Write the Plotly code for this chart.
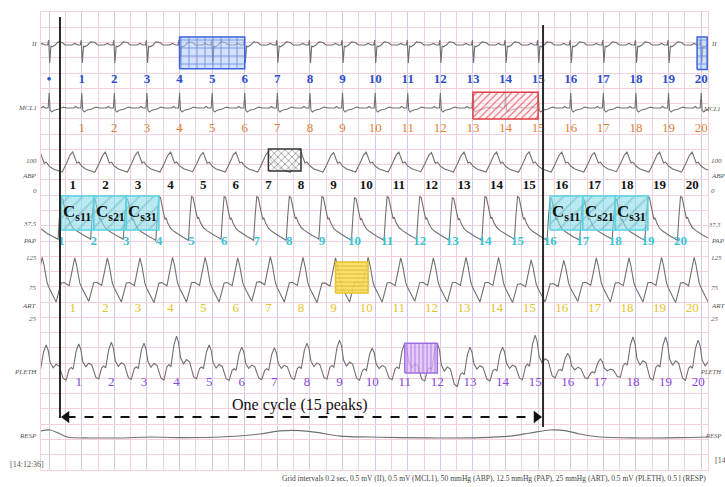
import plotly.graph_objects as go

# ---------------------------------------------------------------- time base
# QRS times (s) for beats -1 .. 20 (beat -1 sits just left of the strip)
beat_times = [-0.30, 0.10, 0.50, 0.90, 1.30, 1.70, 2.10, 2.50, 2.90, 3.30, 3.70,
              4.10, 4.50, 4.90, 5.30, 5.70, 6.10, 6.50, 6.90, 7.30, 7.70, 8.10]
peak_numbers = ["", "•", "1", "2", "3", "4", "5", "6", "7", "8", "9", "10",
                "11", "12", "13", "14", "15", "16", "17", "18", "19", "20"]

# ---------------------------------------------------------------- beat templates
# ECG complexes: (seconds from QRS, mV)
ii_complex = [(-0.123, 0.0), (-0.086, 0.05), (-0.049, 0.0), (-0.018, 0.0),
              (-0.006, 0.16), (0.007, -0.59), (0.022, -0.03), (0.037, -0.06),
              (0.074, 0.0), (0.110, 0.10), (0.160, 0.08), (0.196, 0.0)]
mcl1_complex = [(-0.098, 0.0), (-0.074, 0.05), (-0.049, 0.0), (-0.012, 0.0),
                (0.000, 0.49), (0.012, -0.07), (0.031, -0.13), (0.061, -0.07),
                (0.123, -0.03), (0.172, 0.03), (0.221, 0.0)]

# Pulsatile waves: (seconds from systolic peak, fraction of pulse height)
abp_fall = [(0.000, 1.00), (0.025, 0.75), (0.049, 0.45), (0.074, 0.50),
            (0.110, 0.30), (0.160, 0.15), (0.221, 0.05), (0.270, 0.00)]
abp_rise = [(0.319, 0.40), (0.368, 0.85)]
pap_fall = [(0.000, 1.00), (0.018, 0.98), (0.037, 0.84), (0.055, 0.64),
            (0.074, 0.48), (0.086, 0.52), (0.110, 0.39), (0.147, 0.27),
            (0.184, 0.21), (0.233, 0.14), (0.282, 0.09), (0.331, 0.04),
            (0.362, 0.00)]
pap_rise = [(0.380, 0.55), (0.393, 0.90)]
art_fall = [(0.000, 1.00), (0.025, 0.81), (0.061, 0.43), (0.086, 0.31),
            (0.123, 0.18), (0.172, 0.00)]
art_rise = [(0.233, 0.43), (0.270, 0.44), (0.331, 0.37), (0.356, 0.60),
            (0.380, 0.78)]
pleth_fall = [(0.000, 1.00), (0.025, 0.85), (0.049, 0.50), (0.086, 0.35),
              (0.123, 0.45), (0.160, 0.40), (0.209, 0.05), (0.245, 0.00)]
pleth_rise = [(0.282, 0.30), (0.307, 0.35), (0.331, 0.30), (0.368, 0.80)]

# ---------------------------------------------------------------- per-beat values
abp_sys = [128, 127, 129, 128, 129, 128, 127, 128, 129, 128, 127,
           128, 128, 127, 128, 128, 129, 128, 127, 128, 128, 128]
abp_dia = [63, 63, 62, 63, 63, 64, 63, 63, 62, 63, 63,
           63, 64, 63, 63, 62, 63, 63, 64, 63, 63, 63]
pap_sys = [58, 59, 58, 58, 60, 60, 60, 60, 60, 60, 59,
           60, 60, 59, 60, 60, 59, 58, 58, 60, 60, 60]
pap_dia = [25, 25, 25, 24, 24, 25, 24, 24, 25, 24, 24,
           25, 24, 24, 25, 24, 24, 25, 24, 24, 25, 24]
art_sys = [126, 126, 125, 125, 125, 126, 126, 125, 127, 126, 125,
           126, 125, 125, 126, 126, 122, 121, 125, 125, 126, 126]
art_dia = [53, 53, 54, 53, 52, 53, 53, 54, 53, 52, 53,
           53, 54, 53, 53, 52, 53, 54, 53, 53, 52, 53]
pleth_peak = [0.56, 0.56, 0.59, 0.65, 0.62, 0.85, 0.56, 0.49, 0.46, 0.62, 0.72,
              0.46, 0.62, 0.62, 0.49, 0.49, 0.88, 0.29, 0.10, 0.82, 0.82, 0.72]
pleth_trough = [-0.59, -0.59, -0.55, -0.57, -0.59, -0.55, -0.60, -0.58, -0.57, -0.56, -0.59,
                -0.58, -0.62, -0.80, -0.62, -0.58, -0.52, -0.55, -0.50, -0.59, -0.60, -0.58]

# respiration: (s, litres)
resp_t = [0.00, 0.11, 0.21, 0.32, 0.60, 0.97, 1.34, 1.71, 2.20, 2.69, 2.93, 3.18,
          3.36, 3.67, 4.04, 4.40, 4.90, 5.39, 5.75, 6.00, 6.25, 6.43, 6.61, 6.85,
          7.35, 7.84, 8.18]
resp_v = [0.20, 0.23, 0.13, 0.00, -0.03, -0.03, 0.00, -0.02, 0.00, 0.10, 0.20, 0.21,
          0.16, 0.03, 0.00, -0.02, -0.03, -0.02, 0.03, 0.13, 0.23, 0.21, 0.10, 0.00,
          -0.03, -0.02, 0.00]

# ---------------------------------------------------------------- channel layout
# zero: grid row of the channel's 0 level, per_row: units per grid row
CH = {
    "II":    dict(zero=27.84, per_row=0.5),
    "MCL1":  dict(zero=23.71, per_row=0.5),
    "ABP":   dict(zero=18.26, per_row=50.0),
    "PAP":   dict(zero=13.11, per_row=12.5),
    "ART":   dict(zero=8.89, per_row=25.0),
    "PLETH": dict(zero=7.07, per_row=0.5),
    "RESP":  dict(zero=2.16, per_row=0.5),
}
# peak delay of each channel relative to the QRS (s)
LAG = {"II": 0.0, "MCL1": 0.0, "ABP": -0.110, "PAP": 0.147, "ART": -0.086, "PLETH": -0.037}

T_END = 8.184
WAVE = "#707070"
SERIF = "Liberation Serif"


def rows(vals, ch):
    c = CH[ch]
    return [c["zero"] + v / c["per_row"] for v in vals]


def ecg_series(complex_):
    xs, ys = [], []
    for t in beat_times:
        for dt, v in complex_:
            xs.append(t + dt)
            ys.append(v)
    return xs, ys


def pulse_series(lag, sys, dia, fall, rise):
    xs, ys = [], []
    n = len(beat_times)
    for k in range(n):
        t0 = beat_times[k] + lag
        for dt, f in fall:
            xs.append(t0 + dt)
            ys.append(dia[k] + f * (sys[k] - dia[k]))
        if k + 1 < n:
            for dt, f in rise:
                xs.append(t0 + dt)
                ys.append(dia[k] + f * (sys[k + 1] - dia[k]))
    return xs, ys


fig = go.Figure()


def add_wave(xs, ys, ch, shape="linear"):
    fig.add_trace(go.Scatter(x=xs, y=rows(ys, ch), mode="lines",
                             line=dict(color=WAVE, width=1.1, shape=shape),
                             hoverinfo="skip", showlegend=False))


x, y = ecg_series(ii_complex)
add_wave(x, y, "II")
x, y = ecg_series(mcl1_complex)
add_wave(x, y, "MCL1")
x, y = pulse_series(LAG["ABP"], abp_sys, abp_dia, abp_fall, abp_rise)
add_wave(x, y, "ABP")
x, y = pulse_series(LAG["PAP"], pap_sys, pap_dia, pap_fall, pap_rise)
add_wave(x, y, "PAP")
x, y = pulse_series(LAG["ART"], art_sys, art_dia, art_fall, art_rise)
add_wave(x, y, "ART")
x, y = pulse_series(LAG["PLETH"], pleth_peak, pleth_trough, pleth_fall, pleth_rise)
add_wave(x, y, "PLETH")
add_wave(resp_t, resp_v, "RESP", shape="spline")

# ---------------------------------------------------------------- highlighted windows
# (channel, from beat, to beat, top, bottom, line colour, fill, pattern, pattern colour, size)
windows = [
    ("II", 4, 6, 0.26, -0.78, "#3a64d8", "rgba(175,200,245,0.55)", "+", "rgba(60,100,220,0.7)", 8),
    ("MCL1", 13, 15, 0.52, -0.36, "#e0404a", "rgba(255,235,238,0.55)", "/", "rgba(225,60,70,0.85)", 5),
    ("ABP", 7, 8, 138.0, 66.0, "#333333", "rgba(255,255,255,0.75)", "x", "rgba(50,50,50,0.8)", 5),
    ("ART", 9, 10, 118.5, 67.7, "#e8c22e", "rgba(250,222,95,0.9)", "-", "rgba(215,165,20,0.85)", 4),
    ("PLETH", 11, 12, 0.62, -0.36, "#a070e0", "rgba(220,190,248,0.75)", "|", "rgba(150,80,215,0.85)", 4),
]


def peak_time(ch, beat):
    return beat_times[beat + 1] + LAG[ch]


def add_window(x0, x1, top, bot, ch, lc, fc, pat, pc, psize):
    yt, yb = rows([top, bot], ch)
    fig.add_trace(go.Scatter(
        x=[x0, x1, x1, x0, x0], y=[yb, yb, yt, yt, yb], mode="lines",
        fill="toself",
        fillpattern=dict(shape=pat, fgcolor=pc, bgcolor=fc,
                         size=psize, solidity=0.2, fillmode="replace"),
        line=dict(color=lc, width=1.5), hoverinfo="skip", showlegend=False))


for ch, b0, b1, top, bot, lc, fc, pat, pc, ps in windows:
    add_window(peak_time(ch, b0), peak_time(ch, b1), top, bot, ch, lc, fc, pat, pc, ps)
# narrow window at the right edge of lead II
add_window(peak_time("II", 20) - 0.05, T_END - 0.01, 0.26, -0.80, "II",
           "#3a64d8", "rgba(175,200,245,0.55)", "+", "rgba(60,100,220,0.7)", 8)

# compliance windows on PAP
cs_groups = [(0, ["s11", "s21", "s31"]), (15, ["s11", "s21", "s31"])]
for first, subs in cs_groups:
    for i, sub in enumerate(subs):
        b = first + i
        x0, x1 = peak_time("PAP", b), peak_time("PAP", b + 1)
        add_window(x0, x1, 60.4, 32.6, "PAP", "#55d4e2", "rgba(140,220,232,0.6)",
                   "/", "rgba(70,160,180,0.35)", 10)
        yt, yb = rows([60.4, 32.6], "PAP")
        fig.add_annotation(x=(x0 + x1) / 2, y=(yt + yb) / 2,
                           text=f"<b>C<sub>{sub}</sub></b>", showarrow=False,
                           font=dict(family=SERIF, size=17, color="#111111"))

# ---------------------------------------------------------------- peak numbering
# (channel, label row, shift from the numbered QRS in s, colour, bold)
numbering = [
    ("II", 25.55, 0.000, "#2f4fc8", True),
    ("MCL1", 22.34, 0.000, "#e5802e", False),
    ("ABP", 18.60, -0.110, "#111111", True),
    ("PAP", 14.93, 0.147 - 0.400, "#38c4d6", True),
    ("ART", 10.55, -0.110, "#e6c12c", False),
    ("PLETH", 5.70, -0.037, "#8a46d6", False),
]
for ch, row, shift, col, bold in numbering:
    xs, ys, ts = [], [], []
    for t, lab in zip(beat_times, peak_numbers):
        if lab == "" or (lab == "•" and ch != "II"):
            continue
        xs.append(t + shift)
        ys.append(row)
        ts.append(lab)
    fig.add_trace(go.Scatter(
        x=xs, y=ys, text=ts, mode="text", hoverinfo="skip", showlegend=False,
        textfont=dict(family=SERIF, size=13, color=col,
                      weight="bold" if bold else "normal")))

# ---------------------------------------------------------------- cycle markers
cycle_start, cycle_end = 0.233, 6.16
arrow_row = 3.47
fig.add_shape(type="line", x0=cycle_start, x1=cycle_start, y0=3.41, y1=29.67,
              line=dict(color="#2a2a2a", width=2))
fig.add_shape(type="line", x0=cycle_end, x1=cycle_end, y0=2.82, y1=29.15,
              line=dict(color="#2a2a2a", width=2))
fig.add_shape(type="line", x0=cycle_start + 0.08, x1=cycle_end - 0.08, y0=arrow_row, y1=arrow_row,
              line=dict(color="#111111", width=2, dash="dash"))
fig.add_trace(go.Scatter(x=[cycle_start + 0.08, cycle_end - 0.08], y=[arrow_row, arrow_row],
                         mode="markers", hoverinfo="skip", showlegend=False,
                         marker=dict(symbol=["triangle-left", "triangle-right"], size=11,
                                     color="#111111")))
fig.add_annotation(x=3.18, y=4.26, text="One cycle (15 peaks)", showarrow=False,
                   font=dict(family=SERIF, size=16, color="#111111"))

# ---------------------------------------------------------------- channel captions
side = [
    ("II", rows([0.0], "II")[0] + 0.05),
    ("MCL1", rows([0.0], "MCL1")[0]),
    ("100", rows([100], "ABP")[0]),
    ("ABP", 19.26),
    ("0", rows([0], "ABP")[0]),
    ("37.5", rows([37.5], "PAP")[0]),
    ("PAP", 15.0),
    ("125", rows([125], "ART")[0]),
    ("75", rows([75], "ART")[0]),
    ("ART", 10.74),
    ("25", rows([25], "ART")[0]),
    ("PLETH", 6.42),
    ("RESP", 2.23),
]
for txt, row in side:
    fig.add_annotation(x=-0.003, xref="paper", y=row, yref="y", text=txt,
                       xanchor="right", showarrow=False,
                       font=dict(family=SERIF, size=7, color="#555555", style="italic"))
    # right-hand captions: long ones are pulled in so they stay on the page
    if len(txt) >= 4:
        fig.add_annotation(x=1.023, xref="paper", y=row, yref="y", text=txt,
                           xanchor="right", showarrow=False,
                           font=dict(family=SERIF, size=6.5, color="#555555", style="italic"))
    else:
        fig.add_annotation(x=1.002, xref="paper", y=row, yref="y", text=txt,
                           xanchor="left", showarrow=False,
                           font=dict(family=SERIF, size=7, color="#555555", style="italic"))

fig.add_annotation(x=-0.05, xref="paper", y=0.33, yref="y", text="[14:12:36]",
                   xanchor="left", showarrow=False,
                   font=dict(family=SERIF, size=8, color="#555555"))
fig.add_annotation(x=1.007, xref="paper", y=0.6, yref="y", text="[14:12:36]",
                   xanchor="left", showarrow=False,
                   font=dict(family=SERIF, size=8, color="#555555"))
fig.add_annotation(x=1.0, xref="paper", y=-0.0175, yref="paper", yanchor="middle",
                   xanchor="right", showarrow=False,
                   text=("Grid intervals 0.2 sec, 0.5 mV (II), 0.5 mV (MCL1), 50 mmHg (ABP), "
                         "12.5 mmHg (PAP), 25 mmHg (ART), 0.5 mV (PLETH), 0.5 l (RESP)"),
                   font=dict(family=SERIF, size=7.5, color="#444444"))

# ---------------------------------------------------------------- recording paper
PINK = "#f4d0d8"
LILAC = "#cdc8ee"
fig.update_xaxes(range=[0, T_END], tick0=0.1, dtick=0.4, showgrid=True, gridcolor=LILAC,
                 gridwidth=1, showticklabels=False, ticks="", zeroline=False,
                 showline=True, linecolor=PINK, mirror=True,
                 minor=dict(tick0=0.1, dtick=0.2, showgrid=True, gridcolor=PINK, gridwidth=1))
fig.update_yaxes(range=[0, 30], tick0=0, dtick=1, showgrid=True, gridcolor=PINK,
                 gridwidth=1, showticklabels=False, ticks="", zeroline=False,
                 showline=True, linecolor=PINK, mirror=True)
fig.update_layout(width=725, height=487, margin=dict(l=41, r=17, t=12, b=17),
                  paper_bgcolor="white", plot_bgcolor="white", showlegend=False)

fig.write_html("out.html")
